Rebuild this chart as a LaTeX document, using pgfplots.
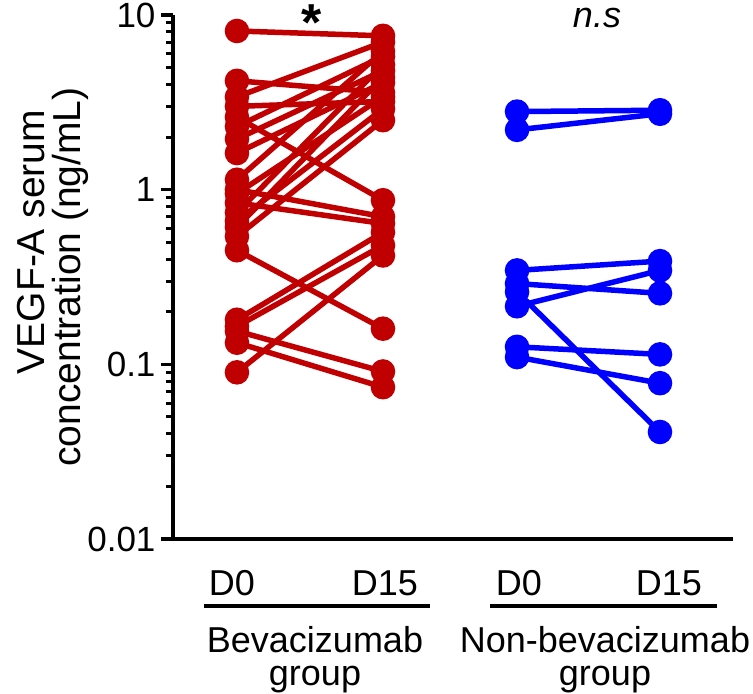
\documentclass[border=0pt]{standalone}
\usepackage{pgfplots}
\pgfplotsset{compat=1.18}
\usepackage{fontspec}
\setmainfont{Liberation Sans}
\definecolor{bevred}{RGB}{192,0,0}
\definecolor{nonblue}{RGB}{0,0,255}
\begin{document}
\begin{tikzpicture}[x=1pt,y=1pt]
\path[use as bounding box] (0,0) rectangle (753,694);
\begin{axis}[
  at={(173pt,155pt)}, anchor=south west,
  scale only axis, width=560pt, height=524pt,
  ymode=log, ymin=0.01, ymax=10,
  xmin=-0.438, xmax=3.397,
  axis lines=left, axis line style={-, line width=4pt},
  xtick=\empty,
  ytick={0.01,0.1,1,10}, yticklabels={0.01,0.1,1,10},
  minor ytick={0.02,0.03,0.04,0.05,0.06,0.07,0.08,0.09,0.2,0.3,0.4,0.5,0.6,0.7,0.8,0.9,2,3,4,5,6,7,8,9},
  tick align=outside,
  major tick length=12pt, minor tick length=7pt,
  major tick style={line width=3.5pt, black},
  minor tick style={line width=3pt, black},
  yticklabel style={font=\fontsize{35}{40}\selectfont, xshift=-2pt},
  /pgf/number format/assume math mode=true,
  clip=false,
]
\pgfplotsset{every axis plot/.append style={line width=5.5pt, mark=*, mark size=9.5pt, mark options={solid}}}
% Bevacizumab group (D0 at x=0, D15 at x=1)
\addplot[bevred] coordinates {(0,8.1) (1,7.6)};
\addplot[bevred] coordinates {(0,4.2) (1,3.6)};
\addplot[bevred] coordinates {(0,3.4) (1,7.0)};
\addplot[bevred] coordinates {(0,3.0) (1,3.2)};
\addplot[bevred] coordinates {(0,2.6) (1,0.87)};
\addplot[bevred] coordinates {(0,2.3) (1,5.8)};
\addplot[bevred] coordinates {(0,1.95) (1,4.8)};
\addplot[bevred] coordinates {(0,1.62) (1,4.1)};
\addplot[bevred] coordinates {(0,1.14) (1,6.2)};
\addplot[bevred] coordinates {(0,1.0) (1,0.70)};
\addplot[bevred] coordinates {(0,0.95) (1,3.4)};
\addplot[bevred] coordinates {(0,0.84) (1,0.64)};
\addplot[bevred] coordinates {(0,0.74) (1,5.2)};
\addplot[bevred] coordinates {(0,0.66) (1,2.9)};
\addplot[bevred] coordinates {(0,0.61) (1,4.4)};
\addplot[bevred] coordinates {(0,0.54) (1,2.5)};
\addplot[bevred] coordinates {(0,0.45) (1,0.16)};
\addplot[bevred] coordinates {(0,0.18) (1,0.57)};
\addplot[bevred] coordinates {(0,0.165) (1,0.48)};
\addplot[bevred] coordinates {(0,0.155) (1,0.091)};
\addplot[bevred] coordinates {(0,0.133) (1,0.074)};
\addplot[bevred] coordinates {(0,0.090) (1,0.42)};
% Non-bevacizumab group (D0 at x=1.918, D15 at x=2.897)
\addplot[nonblue] coordinates {(1.918,2.8) (2.897,2.85)};
\addplot[nonblue] coordinates {(1.918,2.2) (2.897,2.72)};
\addplot[nonblue] coordinates {(1.918,0.345) (2.897,0.39)};
\addplot[nonblue] coordinates {(1.918,0.29) (2.897,0.255)};
\addplot[nonblue] coordinates {(1.918,0.26) (2.897,0.041)};
\addplot[nonblue] coordinates {(1.918,0.215) (2.897,0.345)};
\addplot[nonblue] coordinates {(1.918,0.126) (2.897,0.114)};
\addplot[nonblue] coordinates {(1.918,0.11) (2.897,0.078)};
\end{axis}
% y label
\node[rotate=90, font=\fontsize{39}{46}\selectfont] at (31,452) {VEGF-A serum};
\node[rotate=90, font=\fontsize{39}{46}\selectfont] at (70,417) {concentration (ng/mL)};
% significance marks
\node[font=\bfseries\fontsize{52}{60}\selectfont] at (312,671) {*};
\node[font=\itshape\fontsize{36}{42}\selectfont] at (597,676) {n.s};
% x category labels
\begin{scope}[every node/.style={font=\fontsize{36}{42}\selectfont, inner sep=0pt}]
\node[anchor=base] at (232,98) {D0};
\node[anchor=base] at (385,98) {D15};
\node[anchor=base] at (519,98) {D0};
\node[anchor=base] at (669,98) {D15};
\draw[line width=4pt] (204,88) -- (430,88);
\draw[line width=4pt] (490,88) -- (717,88);
\node[anchor=base] at (315,41) {Bevacizumab};
\node[anchor=base] at (315,8) {group};
\node[anchor=base] at (605,41) {Non-bevacizumab};
\node[anchor=base] at (605,8) {group};
\end{scope}
\end{tikzpicture}
\end{document}
